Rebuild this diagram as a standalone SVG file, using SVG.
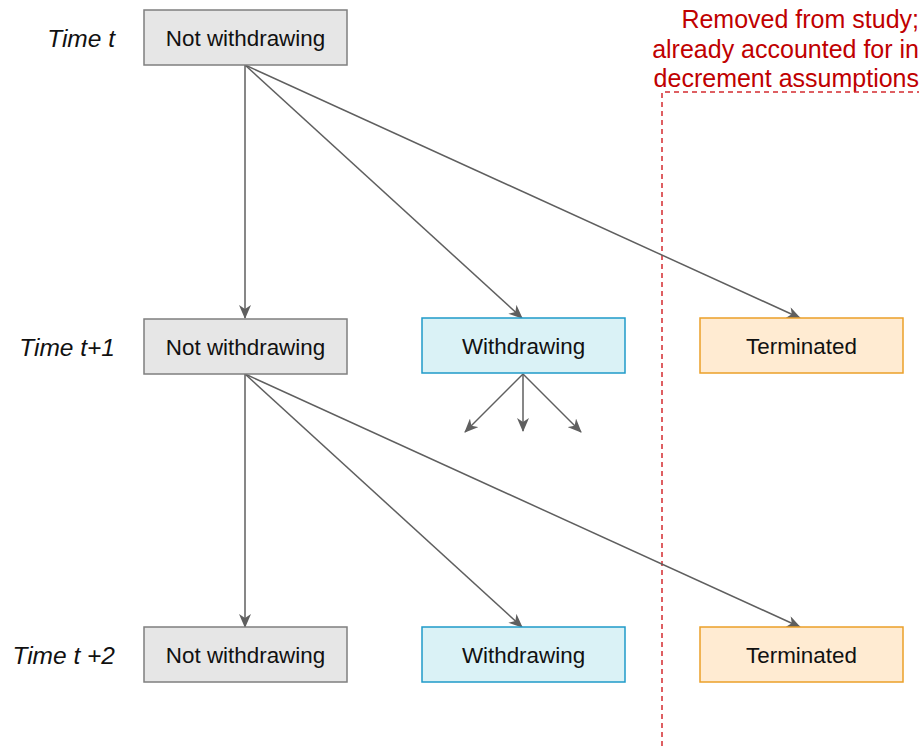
<svg xmlns="http://www.w3.org/2000/svg" width="919" height="746" viewBox="0 0 919 746">
<style>
.box text{font-family:"Liberation Sans",Arial,sans-serif;font-size:22.4px;fill:#111;text-anchor:middle}
.gray{fill:#e6e6e6;stroke:#7f7f7f;stroke-width:1.5}
.blue{fill:#daf2f6;stroke:#1f9ac9;stroke-width:1.5}
.orange{fill:#ffebd2;stroke:#eba029;stroke-width:1.5}
.time{font-family:"Liberation Sans",Arial,sans-serif;font-size:24.5px;font-style:italic;fill:#111;text-anchor:end}
.note{font-family:"Liberation Sans",Arial,sans-serif;font-size:25px;fill:#c00000;text-anchor:end}
.conn line{stroke:#5f5f5f;stroke-width:1.5;fill:none;marker-end:url(#arr)}
</style>
<defs>
<marker id="arr" markerWidth="14" markerHeight="12" refX="13" refY="6" orient="auto" markerUnits="userSpaceOnUse">
<path d="M0,0 L14,6 L0,12 L4,6 z" fill="#5f5f5f"/>
</marker>
</defs>
<rect width="919" height="746" fill="#fff"/>
<g id="labels">
<text class="time" x="115" y="47">Time t</text>
<text class="time" x="115" y="356">Time t+1</text>
<text class="time" x="115" y="664">Time t +2</text>
</g>
<g id="note">
<text class="note" x="919" y="28">Removed from study;</text>
<text class="note" x="919" y="57.5">already accounted for in</text>
<text class="note" x="919" y="87">decrement assumptions</text>
<path d="M662,746 L662,92 L919,92" fill="none" stroke="#d42a2f" stroke-width="1.5" stroke-dasharray="5,4"/>
</g>
<g class="conn" id="connectors">
<line x1="245" y1="65" x2="245" y2="318"/>
<line x1="245" y1="65" x2="522" y2="318"/>
<line x1="245" y1="65" x2="800" y2="318"/>
<line x1="245" y1="374" x2="245" y2="627"/>
<line x1="245" y1="374" x2="522" y2="627"/>
<line x1="245" y1="374" x2="800" y2="627"/>
<line x1="523" y1="374" x2="465" y2="432"/>
<line x1="523" y1="374" x2="523" y2="431"/>
<line x1="523" y1="374" x2="581" y2="432"/>
</g>
<g class="box" id="nw0"><rect class="gray" x="144" y="10" width="203" height="55"/><text x="245.5" y="46">Not withdrawing</text></g>
<g class="box" id="nw1"><rect class="gray" x="144" y="319" width="203" height="55"/><text x="245.5" y="355">Not withdrawing</text></g>
<g class="box" id="w1"><rect class="blue" x="422" y="318" width="203" height="55"/><text x="523.5" y="354">Withdrawing</text></g>
<g class="box" id="t1"><rect class="orange" x="700" y="318" width="203" height="55"/><text x="801.5" y="354">Terminated</text></g>
<g class="box" id="nw2"><rect class="gray" x="144" y="627" width="203" height="55"/><text x="245.5" y="663">Not withdrawing</text></g>
<g class="box" id="w2"><rect class="blue" x="422" y="627" width="203" height="55"/><text x="523.5" y="663">Withdrawing</text></g>
<g class="box" id="t2"><rect class="orange" x="700" y="627" width="203" height="55"/><text x="801.5" y="663">Terminated</text></g>
</svg>
